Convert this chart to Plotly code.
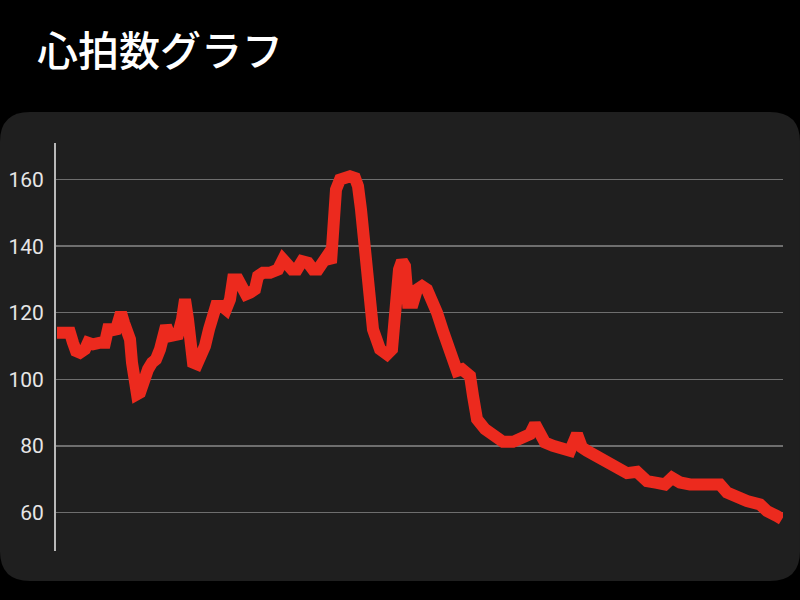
import plotly.graph_objects as go

elapsed = [1, 7, 14, 17, 20, 24, 29, 32, 37, 44, 49, 52, 56, 59, 62, 65, 68, 71, 74, 76,
           78, 81, 84, 87, 89, 92, 96, 100, 104, 107, 110, 114, 119, 122, 126, 129, 132, 134,
           137, 141, 144, 149, 153, 156, 160, 166, 170, 174, 177, 182, 186, 190, 194, 199,
           202, 207, 214, 222, 227, 231, 236, 241, 246, 252, 257, 262, 267, 271, 275, 278,
           280, 284, 289, 294, 299, 302, 305, 308, 312, 317, 324, 331, 336, 339, 343, 346,
           349, 352, 357, 361, 366, 371, 374, 381, 387, 392, 397, 401, 406, 411, 414, 417,
           421, 429, 437, 447, 457, 464, 474, 479, 484, 489, 497, 507, 514, 521, 526, 531,
           541, 551, 561, 571, 581, 591, 601, 609, 616, 624, 634, 647, 664, 671, 681, 691,
           704, 711, 721, 726]
heart_rate = [114, 114, 114, 111, 108.5, 108, 109, 111, 110.5, 111, 111, 115, 115, 114, 117,
              120, 117, 113, 112, 105, 97, 95.5, 96, 100, 101.5, 103, 105, 106, 109, 116, 116,
              113, 113, 113.5, 118, 124, 118, 108, 105, 104.5, 106, 110, 115, 120, 122, 122,
              121, 124, 130, 130, 127, 125.5, 126, 127, 131, 132, 132, 133, 136, 135, 133, 133,
              135.5, 135, 133, 133, 136, 137, 135, 150, 157, 160, 161, 161, 160.5, 158, 151,
              140.5, 125.5, 115, 109, 107.5, 109, 121, 133, 135.5, 134, 123, 123, 127, 128,
              127, 124, 120, 114.5, 111, 106, 102.5, 103, 102, 101, 95, 88, 85, 83, 81.2, 81.2,
              82.5, 83.5, 86.5, 84, 81, 80, 79.5, 78.5, 83.5, 79.5, 78.5, 77, 75.2, 73.2, 71.8,
              72.2, 69.4, 68.9, 68.4, 70.4, 69, 68.4, 68.4, 68.4, 66, 64.4, 63.4, 62.4, 60.4,
              58.9, 58]
y_ticks = [60, 80, 100, 120, 140, 160]
title_text = "心拍数グラフ"

W, H = 800, 600
ML, MR, MT, MB = 56, 17, 143, 49
PW, PH = W - ML - MR, H - MT - MB


def fx(px):
    return (px - ML) / PW


def fy(py):
    return (H - MB - py) / PH


def rounded_rect(x0, y0, x1, y1, r):
    pts = [
        ("M", x0 + r, y0), ("L", x1 - r, y0), ("Q", x1, y0, x1, y0 + r),
        ("L", x1, y1 - r), ("Q", x1, y1, x1 - r, y1), ("L", x0 + r, y1),
        ("Q", x0, y1, x0, y1 - r), ("L", x0, y0 + r), ("Q", x0, y0, x0 + r, y0),
    ]
    out = []
    for p in pts:
        cmd = p[0]
        coords = p[1:]
        s = cmd
        for i in range(0, len(coords), 2):
            s += f" {fx(coords[i]):.5f},{fy(coords[i + 1]):.5f}"
        out.append(s)
    return " ".join(out) + " Z"


fig = go.Figure()
fig.add_trace(go.Scatter(
    x=elapsed, y=heart_rate, mode="lines",
    line=dict(color="#ec2a1e", width=12, shape="linear"),
    hoverinfo="skip", showlegend=False,
))

fig.add_shape(type="path", xref="paper", yref="paper",
              path=rounded_rect(0, 112, 800, 581, 30),
              fillcolor="#1f1f1f", line=dict(width=0), layer="below")

fig.update_layout(
    width=W, height=H,
    margin=dict(l=ML, r=MR, t=MT, b=MB, pad=0, autoexpand=False),
    paper_bgcolor="#000000",
    plot_bgcolor="rgba(0,0,0,0)",
    title=dict(text=title_text, x=37 / W, xanchor="left", xref="container",
               y=1 - 52 / H, yanchor="middle", yref="container",
               font=dict(family="Noto Sans CJK JP", size=41, color="#ffffff", weight=500)),
    xaxis=dict(range=[0, PW], visible=False, showgrid=False, zeroline=False, automargin=False),
    yaxis=dict(range=[48.4, 171], tickvals=y_ticks, showgrid=True, automargin=False,
               gridcolor="#6e6e6e", gridwidth=1.5, zeroline=False,
               showline=True, linecolor="#b8b8b8", linewidth=2,
               ticks="", ticklabelstandoff=6,
               tickfont=dict(family="Roboto", size=21, color="#e6e6e6")),
)

fig.write_html(
    "out.html",
    config={"displayModeBar": False, "staticPlot": True},
    post_script="document.body.style.margin='0';document.body.style.background='#000';",
)
